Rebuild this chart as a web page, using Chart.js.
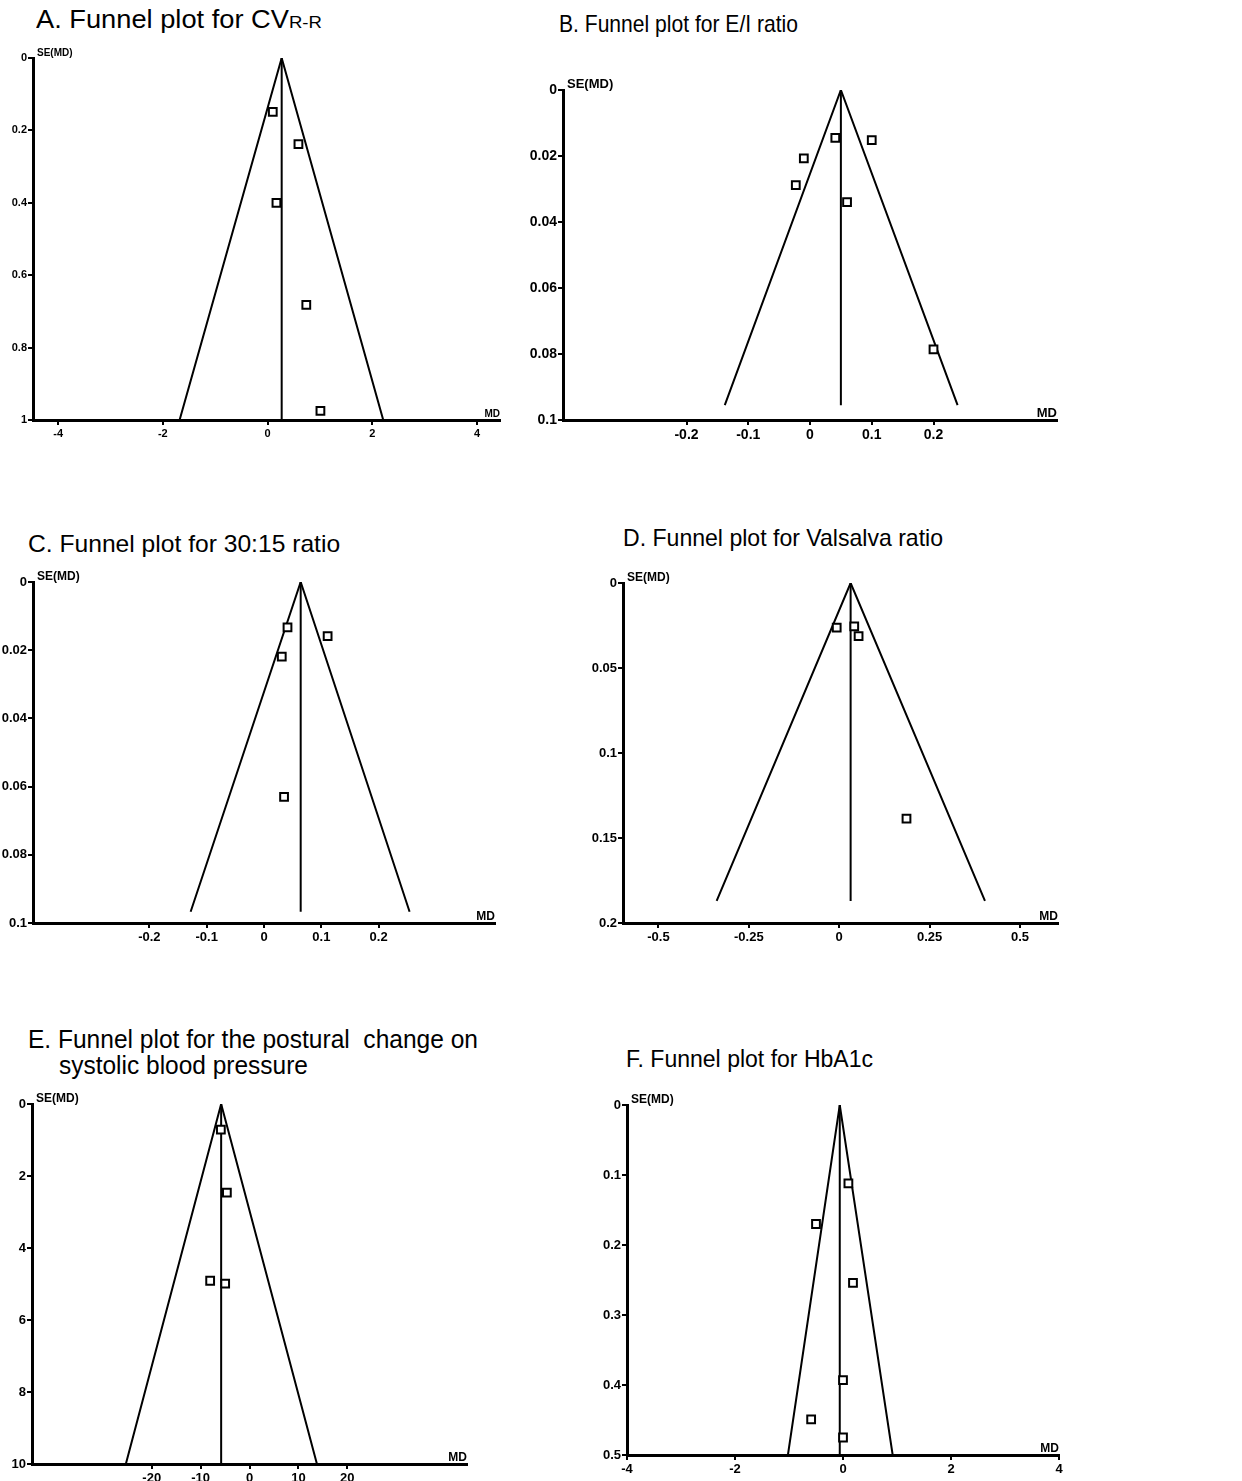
<!DOCTYPE html>
<html>
<head>
<meta charset="utf-8">
<script src="https://cdn.jsdelivr.net/npm/chart.js@4/dist/chart.umd.min.js"></script>
<style>
  body { margin: 0; background: #fff; width: 1242px; height: 1481px; overflow: hidden; position: relative; }
  canvas { position: absolute; }
  .title { position: absolute; font-family: 'Liberation Sans', Arial, sans-serif; line-height: 1; white-space: pre; color: #000; transform-origin: 0 0; }
  .title sub { font-size: 17px; vertical-align: 0; }
</style>
</head>
<body>

<div class="title" data-w="286" style="left:36px; top:7px; font-size:25px;">A. Funnel plot for CV<sub>R-R</sub></div>
<div class="title" data-w="239" style="left:559px; top:12px; font-size:24px;">B. Funnel plot for E/I ratio</div>
<div class="title" data-w="312" style="left:28px; top:532px; font-size:24px;">C. Funnel plot for 30:15 ratio</div>
<div class="title" data-w="320" style="left:623px; top:526px; font-size:24px;">D. Funnel plot for Valsalva ratio</div>
<div class="title" data-w="450" style="left:28px; top:1027px; font-size:25px;">E. Funnel plot for the postural  change on</div>
<div class="title" data-w="249" style="left:59px; top:1053px; font-size:25px;">systolic blood pressure</div>
<div class="title" data-w="247" style="left:626px; top:1048px; font-size:23.5px;">F. Funnel plot for HbA1c</div>

<canvas id="chartA"></canvas>
<canvas id="chartB"></canvas>
<canvas id="chartC"></canvas>
<canvas id="chartD"></canvas>
<canvas id="chartE"></canvas>
<canvas id="chartF"></canvas>

<script>
// A. CV R-R
const cvrrMD = [0.10, 0.59, 0.17, 0.74, 1.01];
const cvrrSE = [0.149, 0.238, 0.40, 0.682, 0.975];
const cvrrFunnelMD = [-1.68, 0.27, 2.21];
const cvrrFunnelSE = [1, 0, 1];
const cvrrXTicks = [-4, -2, 0, 2, 4];
const cvrrYTicks = [0, 0.2, 0.4, 0.6, 0.8, 1];

// B. E/I ratio
const eiMD = [0.041, 0.100, -0.010, -0.023, 0.060, 0.200];
const eiSE = [0.0145, 0.0152, 0.0207, 0.0288, 0.034, 0.0786];
const eiFunnelMD = [-0.138, 0.050, 0.239];
const eiFunnelSE = [0.0955, 0, 0.0955];
const eiXTicks = [-0.2, -0.1, 0, 0.1, 0.2];
const eiYTicks = [0, 0.02, 0.04, 0.06, 0.08, 0.1];

// C. 30:15 ratio
const r3015MD = [0.041, 0.111, 0.031, 0.035];
const r3015SE = [0.0133, 0.0159, 0.0219, 0.063];
const r3015FunnelMD = [-0.128, 0.064, 0.254];
const r3015FunnelSE = [0.0967, 0, 0.0967];
const r3015XTicks = [-0.2, -0.1, 0, 0.1, 0.2];
const r3015YTicks = [0, 0.02, 0.04, 0.06, 0.08, 0.1];

// D. Valsalva ratio
const valsalvaMD = [-0.007, 0.0415, 0.0535, 0.186];
const valsalvaSE = [0.0263, 0.0255, 0.0312, 0.1386];
const valsalvaFunnelMD = [-0.339, 0.0315, 0.403];
const valsalvaFunnelSE = [0.187, 0, 0.187];
const valsalvaXTicks = [-0.5, -0.25, 0, 0.25, 0.5];
const valsalvaYTicks = [0, 0.05, 0.1, 0.15, 0.2];

// E. postural change on systolic BP
const sbpMD = [-5.86, -4.63, -8.05, -4.98];
const sbpSE = [0.71, 2.46, 4.91, 4.99];
const sbpFunnelMD = [-25.3, -5.8, 13.8];
const sbpFunnelSE = [10, 0, 10];
const sbpXTicks = [-20, -10, 0, 10, 20];
const sbpYTicks = [0, 2, 4, 6, 8, 10];

// F. HbA1c
const hba1cMD = [0.10, -0.50, 0.185, 0.0, -0.59, 0.0];
const hba1cSE = [0.112, 0.170, 0.254, 0.393, 0.449, 0.475];
const hba1cFunnelMD = [-1.02, -0.06, 0.92];
const hba1cFunnelSE = [0.5, 0, 0.5];
const hba1cXTicks = [-4, -2, 0, 2, 4];
const hba1cYTicks = [0, 0.1, 0.2, 0.3, 0.4, 0.5];

const FONT = "'Liberation Sans Narrow', 'Liberation Sans', Arial, sans-serif";
const LEFT = 45, TOP = 20, RIGHT = 20, BOTTOM = 30;

// draws the SE(MD) and MD axis captions
const captions = {
  id: 'captions',
  afterDraw(chart, args, opts) {
    const a = chart.chartArea, ctx = chart.ctx;
    ctx.save();
    ctx.fillStyle = '#000';
    ctx.font = 'bold ' + opts.size + 'px ' + FONT;
    ctx.textBaseline = 'alphabetic';
    ctx.textAlign = 'left';
    ctx.fillText('SE(MD)', a.left + 4, a.top - 2);
    ctx.textAlign = 'right';
    ctx.fillText('MD', a.right, a.bottom - 3);
    ctx.restore();
  }
};

function funnel(id, area, xRange, yMax, md, se, fMD, fSE, xTicks, yTicks, fontSize) {
  const cv = document.getElementById(id);
  const w = area.r - area.l + LEFT + RIGHT;
  const h = area.b - area.t + TOP + BOTTOM;
  cv.width = w; cv.height = h;
  cv.style.left = (area.l - LEFT) + 'px';
  cv.style.top = (area.t - TOP) + 'px';

  const tickFont = { family: FONT, size: fontSize, weight: 'bold' };
  const axisCommon = {
    type: 'linear',
    grid: { display: true, drawOnChartArea: false, drawTicks: true, tickLength: 5, color: '#000', lineWidth: 2 },
    border: { display: true, color: '#000', width: 3 }
  };

  new Chart(cv, {
    type: 'scatter',
    data: {
      datasets: [
        {
          data: md.map((v, i) => ({ x: v, y: se[i] })),
          pointStyle: 'rect',
          pointRadius: 5.5,
          pointBorderWidth: 2,
          borderColor: '#000',
          backgroundColor: '#fff',
          clip: false
        },
        {
          data: fMD.map((v, i) => ({ x: v, y: fSE[i] })),
          showLine: true,
          pointRadius: 0,
          borderColor: '#000',
          borderWidth: 2,
          fill: false
        },
        {
          data: [{ x: fMD[1], y: 0 }, { x: fMD[1], y: fSE[0] }],
          showLine: true,
          pointRadius: 0,
          borderColor: '#000',
          borderWidth: 2,
          fill: false
        }
      ]
    },
    options: {
      responsive: false,
      animation: false,
      layout: { padding: { left: 0, top: TOP, right: RIGHT, bottom: 0 } },
      plugins: { legend: { display: false }, tooltip: { enabled: false }, captions: { size: fontSize - 1 } },
      scales: {
        x: Object.assign({}, axisCommon, {
          min: xRange[0], max: xRange[1],
          afterBuildTicks: s => { s.ticks = xTicks.map(v => ({ value: v })); },
          afterFit: s => { s.height = BOTTOM; },
          ticks: { font: tickFont, color: '#000', padding: 2, autoSkip: false, maxRotation: 0, callback: v => String(v) }
        }),
        y: Object.assign({}, axisCommon, {
          reverse: true,
          min: 0, max: yMax,
          afterBuildTicks: s => { s.ticks = yTicks.map(v => ({ value: v })); },
          afterFit: s => { s.width = LEFT; },
          ticks: { font: tickFont, color: '#000', padding: 1, autoSkip: false, callback: v => String(v) }
        })
      }
    },
    plugins: [captions]
  });
}

funnel('chartA', { l: 33, t: 58, r: 500, b: 420 }, [-4.48, 4.44], 1,
  cvrrMD, cvrrSE, cvrrFunnelMD, cvrrFunnelSE, cvrrXTicks, cvrrYTicks, 11);
funnel('chartB', { l: 563, t: 90, r: 1057, b: 420 }, [-0.40, 0.40], 0.1,
  eiMD, eiSE, eiFunnelMD, eiFunnelSE, eiXTicks, eiYTicks, 14);
funnel('chartC', { l: 33, t: 582, r: 495, b: 923 }, [-0.403, 0.403], 0.1,
  r3015MD, r3015SE, r3015FunnelMD, r3015FunnelSE, r3015XTicks, r3015YTicks, 13);
funnel('chartD', { l: 623, t: 583, r: 1058, b: 923 }, [-0.598, 0.605], 0.2,
  valsalvaMD, valsalvaSE, valsalvaFunnelMD, valsalvaFunnelSE, valsalvaXTicks, valsalvaYTicks, 13);
funnel('chartE', { l: 32, t: 1104, r: 467, b: 1464 }, [-44.5, 44.5], 10,
  sbpMD, sbpSE, sbpFunnelMD, sbpFunnelSE, sbpXTicks, sbpYTicks, 13);
funnel('chartF', { l: 627, t: 1105, r: 1059, b: 1455 }, [-4, 4], 0.5,
  hba1cMD, hba1cSE, hba1cFunnelMD, hba1cFunnelSE, hba1cXTicks, hba1cYTicks, 13);

// stretch the titles to the widths seen in the figure
document.querySelectorAll('.title').forEach(el => {
  const target = +el.dataset.w;
  const natural = el.getBoundingClientRect().width;
  if (natural > 0) el.style.transform = 'scaleX(' + (target / natural).toFixed(3) + ')';
});
</script>
</body>
</html>
